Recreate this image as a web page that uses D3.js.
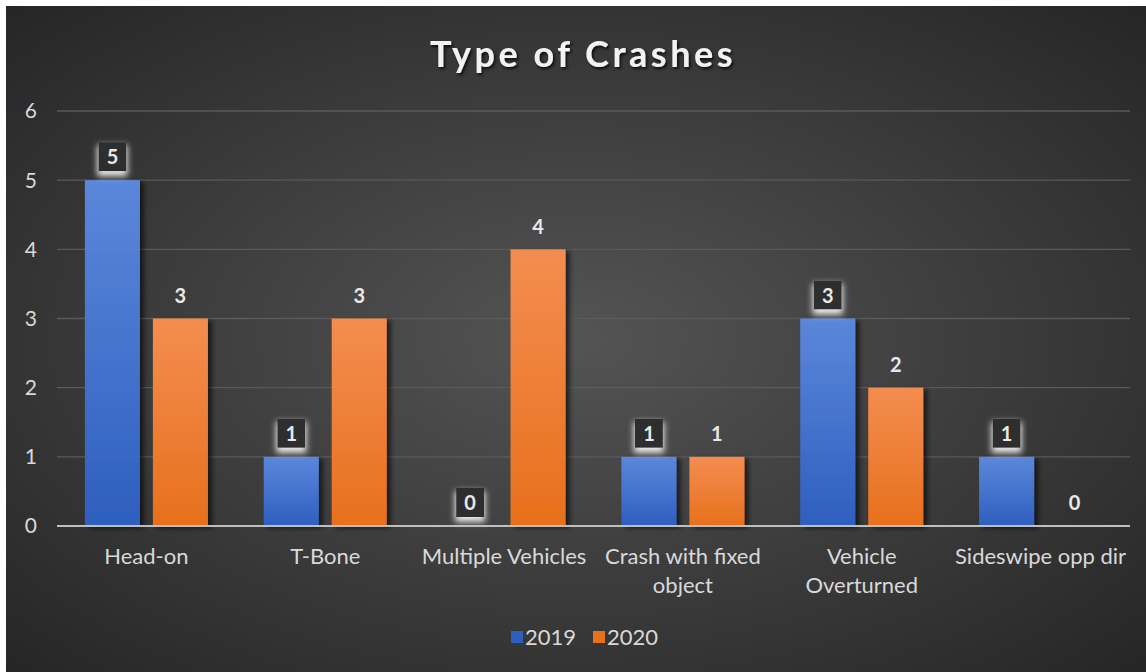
<!DOCTYPE html>
<html>
<head>
<meta charset="utf-8">
<script src="https://cdn.jsdelivr.net/npm/d3@7"></script>
<style>
  html, body { margin: 0; padding: 0; background: #fff; }
  svg { display: block; }
</style>
</head>
<body>
<svg id="chart" width="1146" height="672"></svg>
<script>
const categories = ['Head-on', 'T-Bone', 'Multiple Vehicles', 'Crash with fixed object', 'Vehicle Overturned', 'Sideswipe opp dir']
const series = ['2019', '2020']
const values2019 = [5, 1, 0, 1, 3, 1]
const values2020 = [3, 3, 4, 1, 2, 0]
const yTicks = [0, 1, 2, 3, 4, 5, 6]
const colors = { 2019: ['#5b87da', '#2e5fbf'], 2020: ['#f38d50', '#e8701c'] }

const font = 'Lato, "Open Sans", sans-serif'
const svg = d3.select('#chart')
const margin = { top: 111, left: 57, right: 16, bottom: 146 }
const width = 1146
const height = 672

const defs = svg.append('defs')
const bg = defs.append('radialGradient').attr('id', 'bg')
  .attr('cx', '50%').attr('cy', '50%').attr('r', '70%')
bg.append('stop').attr('offset', '0%').attr('stop-color', '#545454')
bg.append('stop').attr('offset', '100%').attr('stop-color', '#262626')

series.forEach(s => {
  const g = defs.append('linearGradient').attr('id', 'grad' + s)
    .attr('x1', 0).attr('y1', 0).attr('x2', 0).attr('y2', 1)
  g.append('stop').attr('offset', '0%').attr('stop-color', colors[s][0])
  g.append('stop').attr('offset', '100%').attr('stop-color', colors[s][1])
})

const shadow = defs.append('filter').attr('id', 'shadow')
  .attr('x', '-20%').attr('y', '-10%').attr('width', '150%').attr('height', '130%')
shadow.append('feDropShadow').attr('dx', 4).attr('dy', 2).attr('stdDeviation', 2.5)
  .attr('flood-color', '#000').attr('flood-opacity', 0.6)

const glow = defs.append('filter').attr('id', 'glow')
  .attr('x', '-60%').attr('y', '-60%').attr('width', '220%').attr('height', '220%')
glow.append('feMorphology').attr('in', 'SourceAlpha').attr('operator', 'dilate').attr('radius', 1).attr('result', 'd')
glow.append('feGaussianBlur').attr('in', 'd').attr('stdDeviation', 3).attr('result', 'b')
glow.append('feFlood').attr('flood-color', '#ffffff').attr('flood-opacity', 0.9)
glow.append('feComposite').attr('in2', 'b').attr('operator', 'in').attr('result', 'g')
glow.append('feOffset').attr('in', 'g').attr('dy', 4).attr('result', 'go')
const merge = glow.append('feMerge')
merge.append('feMergeNode').attr('in', 'go')
merge.append('feMergeNode').attr('in', 'SourceGraphic')

const titleShadow = defs.append('filter').attr('id', 'tshadow')
titleShadow.append('feDropShadow').attr('dx', 1.5).attr('dy', 2).attr('stdDeviation', 1.5)
  .attr('flood-color', '#000').attr('flood-opacity', 0.8)

svg.append('rect').attr('x', 6).attr('y', 6).attr('width', width - 6).attr('height', height - 6)
  .attr('fill', 'url(#bg)')

const x0 = d3.scaleBand().domain(categories)
  .range([margin.left, width - margin.right])
  .paddingInner(0.312).paddingOuter(0.156)
const x1 = d3.scaleBand().domain(series).range([0, x0.bandwidth()]).paddingInner(0.19)
const y = d3.scaleLinear().domain([0, 6]).range([height - margin.bottom, margin.top])

// gridlines
svg.append('g').selectAll('line').data(yTicks.filter(d => d > 0)).enter().append('line')
  .attr('x1', margin.left).attr('x2', width - margin.right)
  .attr('y1', d => y(d)).attr('y2', d => y(d))
  .attr('stroke', '#5a5a5a').attr('stroke-width', 1.3)

// y axis labels
svg.append('g').selectAll('text').data(yTicks).enter().append('text')
  .attr('x', 37).attr('y', d => y(d)).attr('dy', '0.35em')
  .attr('text-anchor', 'end').attr('fill', '#d9d9d9')
  .style('font-family', font).style('font-size', '21px')
  .text(d => d)

// title
svg.append('text').attr('x', 583).attr('y', 67).attr('text-anchor', 'middle')
  .attr('fill', '#f2f2f2').attr('filter', 'url(#tshadow)')
  .style('font-family', font).style('font-size', '36px').style('font-weight', 'bold')
  .style('letter-spacing', '3.5px')
  .text('Type of Crashes')

const rows = categories.map((c, i) => ({ cat: c, vals: [{ s: '2019', v: values2019[i] }, { s: '2020', v: values2020[i] }] }))

const groups = svg.append('g').selectAll('g').data(rows).enter().append('g')
  .attr('transform', d => `translate(${x0(d.cat)},0)`)

groups.selectAll('rect').data(d => d.vals.filter(e => e.v > 0)).enter().append('rect')
  .attr('x', d => x1(d.s)).attr('width', x1.bandwidth())
  .attr('y', d => y(d.v)).attr('height', d => y(0) - y(d.v))
  .attr('fill', d => `url(#grad${d.s})`)
  .attr('filter', 'url(#shadow)')

// zero line
svg.append('line').attr('x1', margin.left).attr('x2', width - margin.right)
  .attr('y1', y(0)).attr('y2', y(0)).attr('stroke', '#bfbfbf').attr('stroke-width', 2)

// data labels
const labels = groups.selectAll('g.lab').data(d => d.vals).enter().append('g')
  .attr('class', 'lab')
  .attr('transform', d => `translate(${x1(d.s) + x1.bandwidth() / 2},${y(d.v) - 23})`)

labels.filter(d => d.s === '2019').append('rect')
  .attr('x', -14).attr('y', -15).attr('width', 28).attr('height', 29)
  .attr('fill', '#2d2d2d').attr('filter', 'url(#glow)')

labels.append('text').attr('text-anchor', 'middle').attr('dy', '0.36em')
  .attr('fill', '#e8e8e8')
  .style('font-family', font).style('font-size', '20px').style('font-weight', 'bold')
  .text(d => d.v)

// x axis labels
const xLabelLines = { 'Crash with fixed object': ['Crash with fixed', 'object'], 'Vehicle Overturned': ['Vehicle', 'Overturned'] }
const xl = svg.append('g').selectAll('text').data(categories).enter().append('text')
  .attr('x', d => x0(d) + x0.bandwidth() / 2).attr('y', 564)
  .attr('text-anchor', 'middle').attr('fill', '#d9d9d9')
  .style('font-family', font).style('font-size', '22px')
xl.selectAll('tspan').data(d => xLabelLines[d] || [d]).enter().append('tspan')
  .attr('x', function () { return d3.select(this.parentNode).attr('x') })
  .attr('dy', (d, i) => i === 0 ? 0 : 29)
  .text(d => d)

// legend
const legendX = [511, 593]
const legend = svg.append('g').selectAll('g').data(series).enter().append('g')
  .attr('transform', (d, i) => `translate(${legendX[i]},637)`)
legend.append('rect').attr('x', 0).attr('y', -6).attr('width', 12).attr('height', 12)
  .attr('fill', d => colors[d][1])
legend.append('text').attr('x', 14).attr('dy', '0.35em').attr('fill', '#d9d9d9')
  .style('font-family', font).style('font-size', '22px')
  .text(d => d)
</script>
</body>
</html>
